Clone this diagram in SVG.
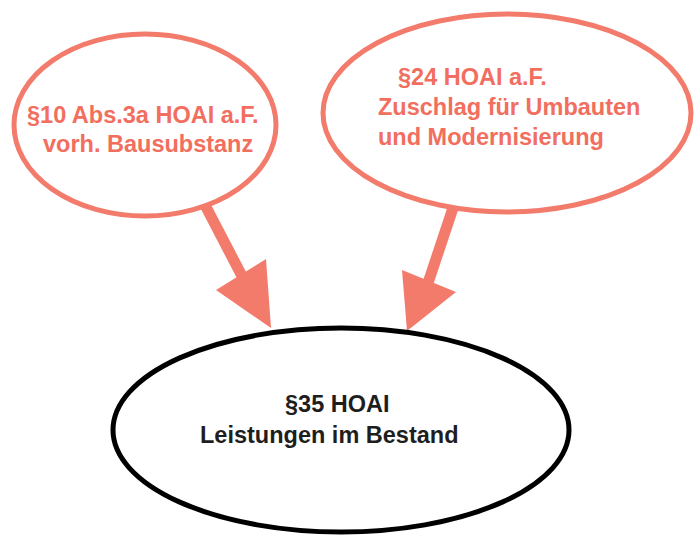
<svg xmlns="http://www.w3.org/2000/svg" width="696" height="535" viewBox="0 0 696 535">
<style>
  .red { fill: #ffffff; stroke: #f37b6b; stroke-width: 5; }
  .blk { fill: #ffffff; stroke: #000000; stroke-width: 5; }
  .rt { font-family: "Liberation Sans", Arial, sans-serif; font-weight: bold; font-size: 23.5px; fill: #f26e5e; }
  .bt { font-family: "Liberation Sans", Arial, sans-serif; font-weight: bold; font-size: 23.5px; fill: #1e1e1e; }
  .shaft { stroke: #f37b6b; stroke-width: 11; fill: none; }
  .head { fill: #f37b6b; }
</style>
<rect width="696" height="535" fill="#ffffff"/>
<g id="connectors">
  <line class="shaft" x1="205" y1="205" x2="243" y2="278"/>
  <polygon class="head" points="216,290 266,259 271,328"/>
  <line class="shaft" x1="454" y1="205" x2="428" y2="283"/>
  <polygon class="head" points="402,270 456,292 407,331"/>
</g>
<g id="node-p10">
  <ellipse class="red" cx="145" cy="125" rx="131" ry="91"/>
  <text class="rt" x="27" y="123">§10 Abs.3a HOAI a.F.</text>
  <text class="rt" x="43" y="152">vorh. Bausubstanz</text>
</g>
<g id="node-p24">
  <ellipse class="red" cx="507" cy="113" rx="184" ry="99"/>
  <text class="rt" x="398" y="85">§24 HOAI a.F.</text>
  <text class="rt" x="378" y="115">Zuschlag für Umbauten</text>
  <text class="rt" x="378" y="145">und Modernisierung</text>
</g>
<g id="node-p35">
  <ellipse class="blk" cx="341" cy="430" rx="228" ry="102"/>
  <text class="bt" x="285" y="412">§35 HOAI</text>
  <text class="bt" x="200" y="443">Leistungen im Bestand</text>
</g>
</svg>
